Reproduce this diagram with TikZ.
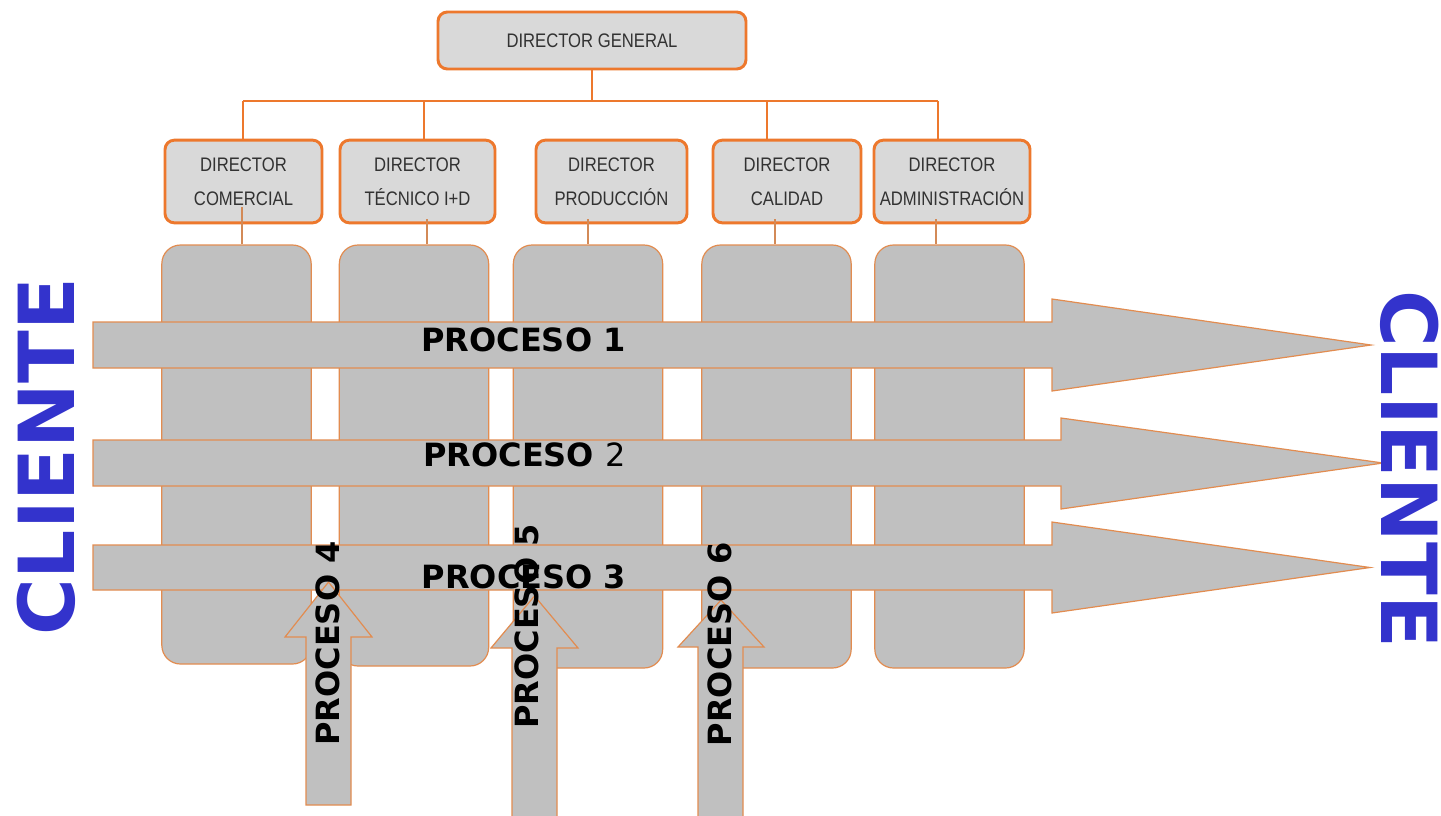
\documentclass[tikz,border=0pt]{standalone}
\usepackage{fontspec}
\newfontfamily\dirfont[FakeStretch=0.85]{Liberation Sans}
\newfontfamily\procfont{DejaVu Sans}
\definecolor{org}{RGB}{237,120,45}
\definecolor{orgthin}{RGB}{226,140,80}
\definecolor{dirfill}{RGB}{217,217,217}
\definecolor{colfill}{RGB}{192,192,192}
\definecolor{cliblue}{RGB}{51,51,204}
\definecolor{dirtext}{RGB}{50,50,50}
\begin{document}
\begin{tikzpicture}[x=0.75pt,y=-0.75pt,
 dirbox/.style={draw=org, line width=2.2pt, fill=dirfill, rounded corners=7pt, inner sep=0pt, align=center, text=dirtext, font=\dirfont\fontsize{14.7}{25.5}\selectfont, minimum height=62pt},
 colbox/.style={draw=orgthin, line width=0.9pt, fill=colfill, rounded corners=14pt, inner sep=0pt, minimum width=112pt},
 busline/.style={draw=org, line width=1.9pt},
 dropline/.style={draw=orgthin!85!gray, line width=0.9pt},
 procarrow/.style={draw=orgthin, line width=0.9pt, fill=colfill, line join=miter},
 proclabel/.style={font=\procfont\bfseries\fontsize{24}{28}\selectfont, text=black, inner sep=0pt},
 clientlabel/.style={font=\procfont\bfseries\fontsize{58}{60}\selectfont, text=cliblue, inner sep=0pt}
]
\clip (0,0) rectangle (1441,815);
\fill[white] (0,0) rectangle (1441,815);

% bus coordinates
\coordinate (b1) at (243,101);
\coordinate (b2) at (424,101);
\coordinate (b3) at (767,101);
\coordinate (b4) at (938,101);

% director boxes
\node[dirbox, minimum width=231pt, minimum height=42.75pt] (dg) at (592,40.5) {DIRECTOR GENERAL};
\node[dirbox, minimum width=117.75pt] (dcom) at (243.5,181.5) {DIRECTOR\\COMERCIAL};
\node[dirbox, minimum width=116.25pt] (dtec) at (417.5,181.5) {DIRECTOR\\TÉCNICO I+D};
\node[dirbox, minimum width=113.25pt] (dpro) at (611.5,181.5) {DIRECTOR\\PRODUCCIÓN};
\node[dirbox, minimum width=111pt] (dcal) at (787,181.5) {DIRECTOR\\CALIDAD};
\node[dirbox, minimum width=117pt] (dadm) at (952,181.5) {DIRECTOR\\ADMINISTRACIÓN};

% bus lines
\draw[busline] (dg.south) -- (dg.south |- b1);
\draw[busline] (b1) -- (b4);
\draw[busline] (b1) -- (b1 |- dcom.north);
\draw[busline] (b2) -- (b2 |- dtec.north);
\draw[busline] (b3) -- (b3 |- dcal.north);
\draw[busline] (b4) -- (b4 |- dadm.north);

% columns
\node[colbox, minimum height=314.25pt] (col1) at (236.5,454.5) {};
\node[colbox, minimum height=315.75pt] (col2) at (414,455.5) {};
\node[colbox, minimum height=317.25pt] (col3) at (588,456.5) {};
\node[colbox, minimum height=317.25pt] (col4) at (776.5,456.5) {};
\node[colbox, minimum height=317.25pt] (col5) at (949.5,456.5) {};

% drops from directors to columns
\coordinate (t1) at (242,207);
\coordinate (t2) at (427,219);
\coordinate (t3) at (588,219);
\coordinate (t4) at (775,219);
\coordinate (t5) at (936,219);
\draw[dropline] (t1) -- (t1 |- col1.north);
\draw[dropline] (t2) -- (t2 |- col2.north);
\draw[dropline] (t3) -- (t3 |- col3.north);
\draw[dropline] (t4) -- (t4 |- col4.north);
\draw[dropline] (t5) -- (t5 |- col5.north);

% horizontal process arrows
\draw[procarrow] (93,322) -- (1052,322) -- (1052,299) -- (1371,345) -- (1052,391) -- (1052,368) -- (93,368) -- cycle;
\draw[procarrow] (93,440) -- (1061,440) -- (1061,418) -- (1383,463) -- (1061,509) -- (1061,486) -- (93,486) -- cycle;
\draw[procarrow] (93,545) -- (1052,545) -- (1052,522) -- (1370,567.5) -- (1052,613) -- (1052,590) -- (93,590) -- cycle;

% vertical process arrows
\draw[procarrow] (306,805) -- (306,637) -- (285,637) -- (328.5,582) -- (372,637) -- (351,637) -- (351,805) -- cycle;
\draw[procarrow] (512,830) -- (512,648) -- (491,648) -- (534.5,596) -- (578,648) -- (557,648) -- (557,830);
\draw[procarrow] (698,830) -- (698,647) -- (678,647) -- (721,600) -- (764,647) -- (743,647) -- (743,830);

% labels
\node[proclabel] (p1) at (523.5,339.5) {PROCESO 1};
\node[proclabel] (p2) at (524.5,455) {PROCESO {\mdseries 2}};
\node[proclabel] (p3) at (524,576.5) {PROCESO 3};
\node[proclabel, rotate=90] (p4) at (327.5,643.5) {PROCESO 4};
\node[proclabel, rotate=90] (p5) at (527,626.5) {PROCESO 5};
\node[proclabel, rotate=90] (p6) at (719.5,644) {PROCESO 6};

\node[clientlabel, rotate=90] (cl) at (46.5,457) {CLIENTE};
\node[clientlabel, rotate=-90] (cr) at (1410,469) {CLIENTE};
\end{tikzpicture}
\end{document}
